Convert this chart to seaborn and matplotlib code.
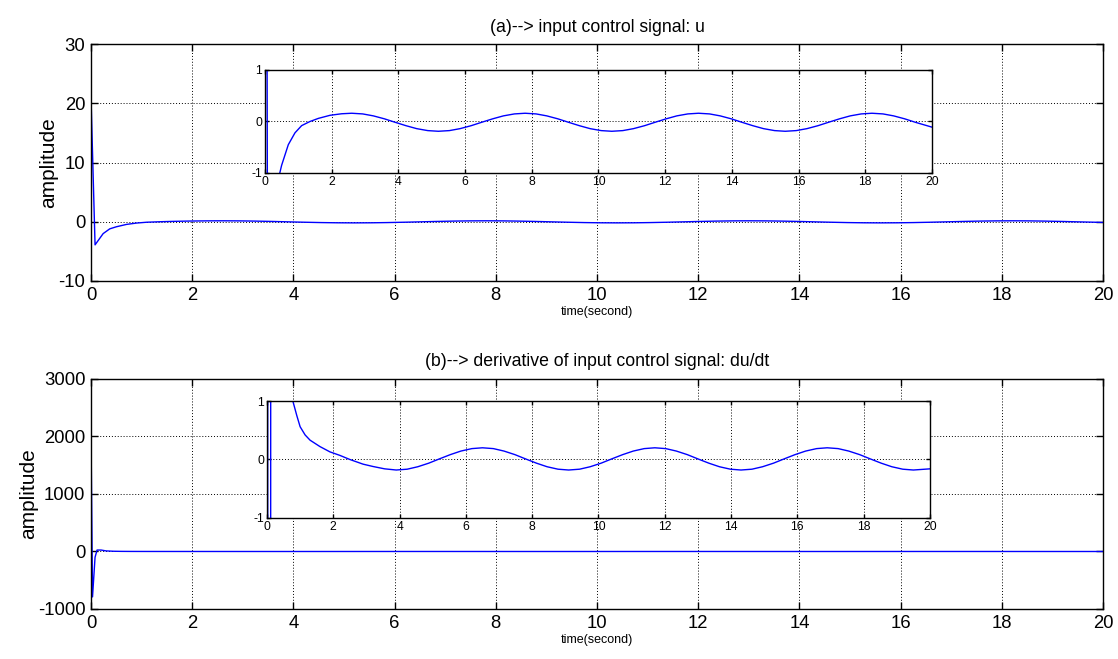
import pandas as pd
import matplotlib
matplotlib.use("Agg")
import matplotlib.pyplot as plt
import seaborn as sns

# input control signal u(t)
u_time = [0, 0.08, 0.24, 0.37, 0.5, 0.7, 0.9, 1.1, 1.35, 1.6, 1.95, 2.3,
          2.6, 2.93, 3.25, 3.58, 3.9, 4.23, 4.55, 4.88, 5.2, 5.53, 5.85, 6.18,
          6.5, 6.83, 7.15, 7.48, 7.8, 8.13, 8.45, 8.78, 9.1, 9.43, 9.75, 10.08,
          10.4, 10.73, 11.05, 11.38, 11.7, 12.03, 12.35, 12.68, 13.0, 13.33, 13.65, 13.98,
          14.3, 14.63, 14.95, 15.28, 15.6, 15.93, 16.25, 16.58, 16.9, 17.23, 17.55, 17.88,
          18.2, 18.53, 18.85, 19.18, 19.5, 20.0]
u_vals = [21, -3.9, -2.0, -1.2, -0.85, -0.45, -0.22, -0.08, 0.0, 0.06, 0.12, 0.15,
          0.16, 0.147, 0.109, 0.052, -0.015, -0.082, -0.139, -0.177, -0.19, -0.177, -0.139, -0.082,
          -0.015, 0.052, 0.109, 0.147, 0.16, 0.147, 0.109, 0.052, -0.015, -0.082, -0.139, -0.177,
          -0.19, -0.177, -0.139, -0.082, -0.015, 0.052, 0.109, 0.147, 0.16, 0.147, 0.109, 0.052,
          -0.015, -0.082, -0.139, -0.177, -0.19, -0.177, -0.139, -0.082, -0.015, 0.052, 0.109, 0.147,
          0.16, 0.147, 0.109, 0.052, -0.015, -0.11]

# derivative du/dt
du_time = [0, 0.03, 0.08, 0.12, 0.2, 0.3, 0.45, 0.6, 0.78, 0.9, 1.0, 1.15,
           1.3, 1.6, 1.9, 2.2, 2.5, 2.9, 3.2, 3.55,
           3.9, 4.23, 4.55, 4.88, 5.2, 5.53, 5.85, 6.18, 6.5, 6.83, 7.15, 7.48,
           7.8, 8.13, 8.45, 8.78, 9.1, 9.43, 9.75, 10.08, 10.4, 10.73, 11.05, 11.38,
           11.7, 12.03, 12.35, 12.68, 13.0, 13.33, 13.65, 13.98, 14.3, 14.63, 14.95, 15.28,
           15.6, 15.93, 16.25, 16.58, 16.9, 17.23, 17.55, 17.88, 18.2, 18.53, 18.85, 19.18,
           19.5, 20.0]
du_vals = [2050, -790, -100, 25, 25, 10, 4, 2, 1.0, 0.75, 0.56, 0.42,
           0.33, 0.22, 0.13, 0.07, 0.0, -0.08, -0.12, -0.16,
           -0.18, -0.166, -0.124, -0.063, 0.01, 0.083, 0.144, 0.186, 0.2, 0.186, 0.144, 0.083,
           0.01, -0.063, -0.124, -0.166, -0.18, -0.166, -0.124, -0.063, 0.01, 0.083, 0.144, 0.186,
           0.2, 0.186, 0.144, 0.083, 0.01, -0.063, -0.124, -0.166, -0.18, -0.166, -0.124, -0.063,
           0.01, 0.083, 0.144, 0.186, 0.2, 0.186, 0.144, 0.083, 0.01, -0.063, -0.124, -0.166,
           -0.18, -0.16]

x_ticks = list(range(0, 21, 2))
u_yticks = [-10, 0, 10, 20, 30]
du_yticks = [-1000, 0, 1000, 2000, 3000]
inset_yticks = [-1, 0, 1]

titles = ["(a)--> input control signal: u",
          "(b)--> derivative of input control signal: du/dt"]

sns.set_style("ticks")
plt.rcParams["font.family"] = ["Liberation Sans", "DejaVu Sans"]
plt.rcParams["axes.unicode_minus"] = False
plt.rcParams["text.color"] = "k"
plt.rcParams["axes.labelcolor"] = "k"

df_u = pd.DataFrame({"t": u_time, "v": u_vals})
df_du = pd.DataFrame({"t": du_time, "v": du_vals})


def style_axes(ax, fs, yticks):
    ax.set_xlim(0, 20)
    ax.set_xticks(x_ticks)
    ax.set_ylim(yticks[0], yticks[-1])
    ax.set_yticks(yticks)
    ax.grid(True, color="k", linestyle=(0, (1, 2)), linewidth=0.7)
    ax.tick_params(direction="in", top=True, right=True, length=5,
                   width=1, labelsize=fs, colors="k", pad=4)
    for s in ax.spines.values():
        s.set_color("k")
        s.set_linewidth(1.0)
    ax.set_xlabel("")
    ax.set_ylabel("")


fig = plt.figure(figsize=(11.18, 6.59), dpi=100)

main_pos = [[0.0814, 0.5736, 0.9052, 0.3596], [0.0814, 0.0759, 0.9052, 0.349]]
inset_pos = [[0.237, 0.7375, 0.5966, 0.1563], [0.2388, 0.214, 0.593, 0.1775]]

for i, (df, yt) in enumerate([(df_u, u_yticks), (df_du, du_yticks)]):
    ax = fig.add_axes(main_pos[i])
    sns.lineplot(data=df, x="t", y="v", ax=ax, color="#0000ff", linewidth=1.0,
                 estimator=None, sort=False)
    style_axes(ax, 13.3, yt)
    ax.set_title(titles[i], fontsize=12.7, pad=9, color="k")
    ax.set_ylabel("amplitude", fontsize=15, labelpad=0)
    ax.set_xlabel("time(second)", fontsize=9, labelpad=2)

    ins = fig.add_axes(inset_pos[i])
    ins.set_facecolor("white")
    sns.lineplot(data=df, x="t", y="v", ax=ins, color="#0000ff", linewidth=1.0,
                 estimator=None, sort=False)
    style_axes(ins, 8.7, inset_yticks)
    ins.tick_params(length=3, pad=2)

fig.savefig("out.png", dpi=100)
